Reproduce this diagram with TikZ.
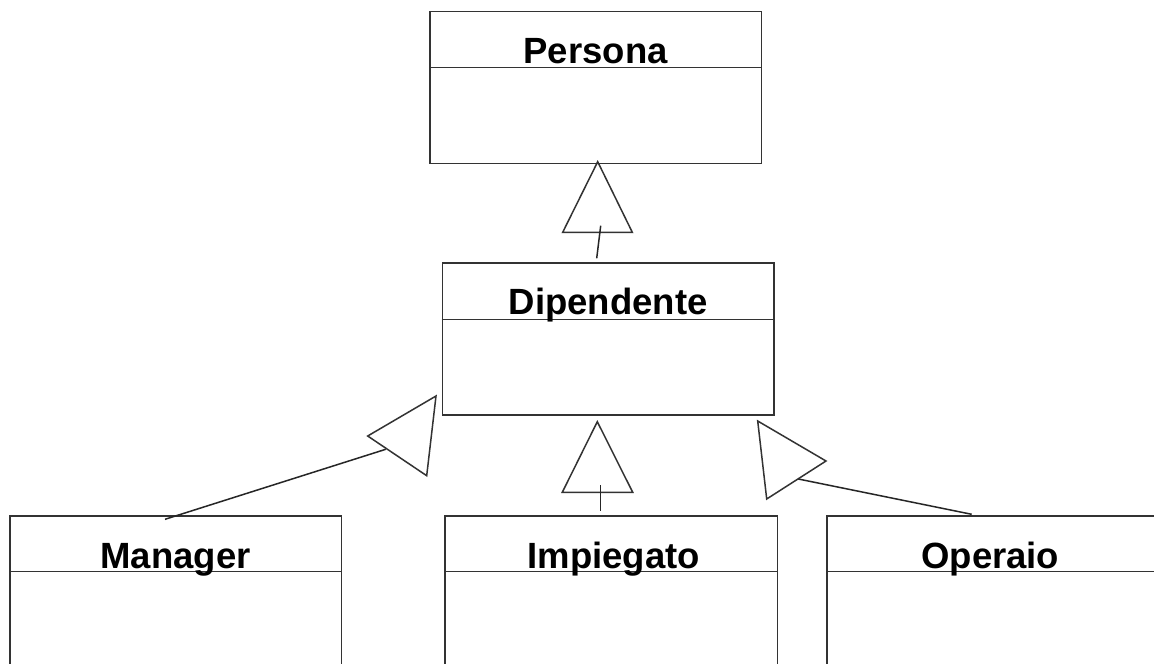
\documentclass[tikz,border=0pt]{standalone}
\usepackage{fontspec}
\setmainfont{Liberation Sans}
\usetikzlibrary{calc}
\tikzset{
  umlbox/.style={draw=black!80, line width=1.5pt, rectangle, inner sep=0pt, anchor=north west, fill=white},
  divline/.style={draw=black!80, line width=1.5pt},
  lbl/.style={inner sep=0pt, anchor=base, font=\bfseries\fontsize{36.5}{40}\selectfont},
  tri/.style={draw=black!80, line width=1.5pt, line join=miter},
  conn/.style={draw=black!85, line width=1.5pt},
}
\begin{document}
\begin{tikzpicture}[x=1pt,y=-1pt]
\useasboundingbox (0,0) rectangle (1154,664);
\clip (0,0) rectangle (1154,664);
\fill[white] (0,0) rectangle (1154,664);

% boxes
\node[umlbox, minimum width=331.7pt, minimum height=152pt] (persona) at (429,10.7) {};
\node[umlbox, minimum width=331.6pt, minimum height=151.7pt] (dip) at (441.7,262.3) {};
\node[umlbox, minimum width=331.7pt, minimum height=170pt] (man) at (9,515) {};
\node[umlbox, minimum width=332.4pt, minimum height=170pt] (imp) at (444.3,515) {};
\node[umlbox, minimum width=340pt, minimum height=170pt] (ope) at (826,515) {};

% dividers
\foreach \b/\d in {persona/57, dip/57, man/56.7, imp/56.7, ope/56.7}{
  \draw[divline] ($(\b.north west)+(0,\d)$) -- ($(\b.north east)+(0,\d)$);
}

% labels
\node[lbl] (personaT) at ($(persona.north)+(0,52.5)$) {Persona};
\node[lbl] (dipT) at ($(dip.north)+(0,52)$) {Dipendente};
\node[lbl] (manT) at ($(man.north)+(0,53)$) {Manager};
\node[lbl] (impT) at ($(imp.north)+(2.5,53)$) {Impiegato};
\node[lbl] (opeT) at (990.3,568) {Operaio};

% triangles
\coordinate (t1a) at (597.7,161.7);
\coordinate (t1b) at (562.7,232.3);
\coordinate (t1c) at (632.3,232.3);
\draw[tri] (t1a) -- (t1b) -- (t1c) -- cycle;

\coordinate (t2a) at (367.7,436);
\coordinate (t2b) at (436,396);
\coordinate (t2c) at (426.7,475.7);
\draw[tri] (t2a) -- (t2b) -- (t2c) -- cycle;

\coordinate (t3a) at (597.3,421.7);
\coordinate (t3b) at (562.3,492.3);
\coordinate (t3c) at (632.7,492.3);
\draw[tri] (t3a) -- (t3b) -- (t3c) -- cycle;

\coordinate (t4a) at (826,461);
\coordinate (t4b) at (757.7,421);
\coordinate (t4c) at (766.7,499);
\draw[tri] (t4a) -- (t4b) -- (t4c) -- cycle;

% connectors
\coordinate (c1a) at (600.7,225.7);
\coordinate (c1b) at ($(dip.north west)+(155,-4)$);
\draw[conn] (c1a) -- (c1b);

\coordinate (c2a) at (385.7,449.3);
\coordinate (c2b) at ($(man.north west)+(156,4.3)$);
\draw[conn] (c2a) -- (c2b);

\coordinate (c3a) at (600.3,485);
\coordinate (c3b) at ($(imp.north west)+(156,-4.3)$);
\draw[conn] (c3a) -- (c3b);

\coordinate (c4a) at (798.3,479);
\coordinate (c4b) at ($(ope.north west)+(145.7,-0.7)$);
\draw[conn] (c4a) -- (c4b);
\end{tikzpicture}
\end{document}
